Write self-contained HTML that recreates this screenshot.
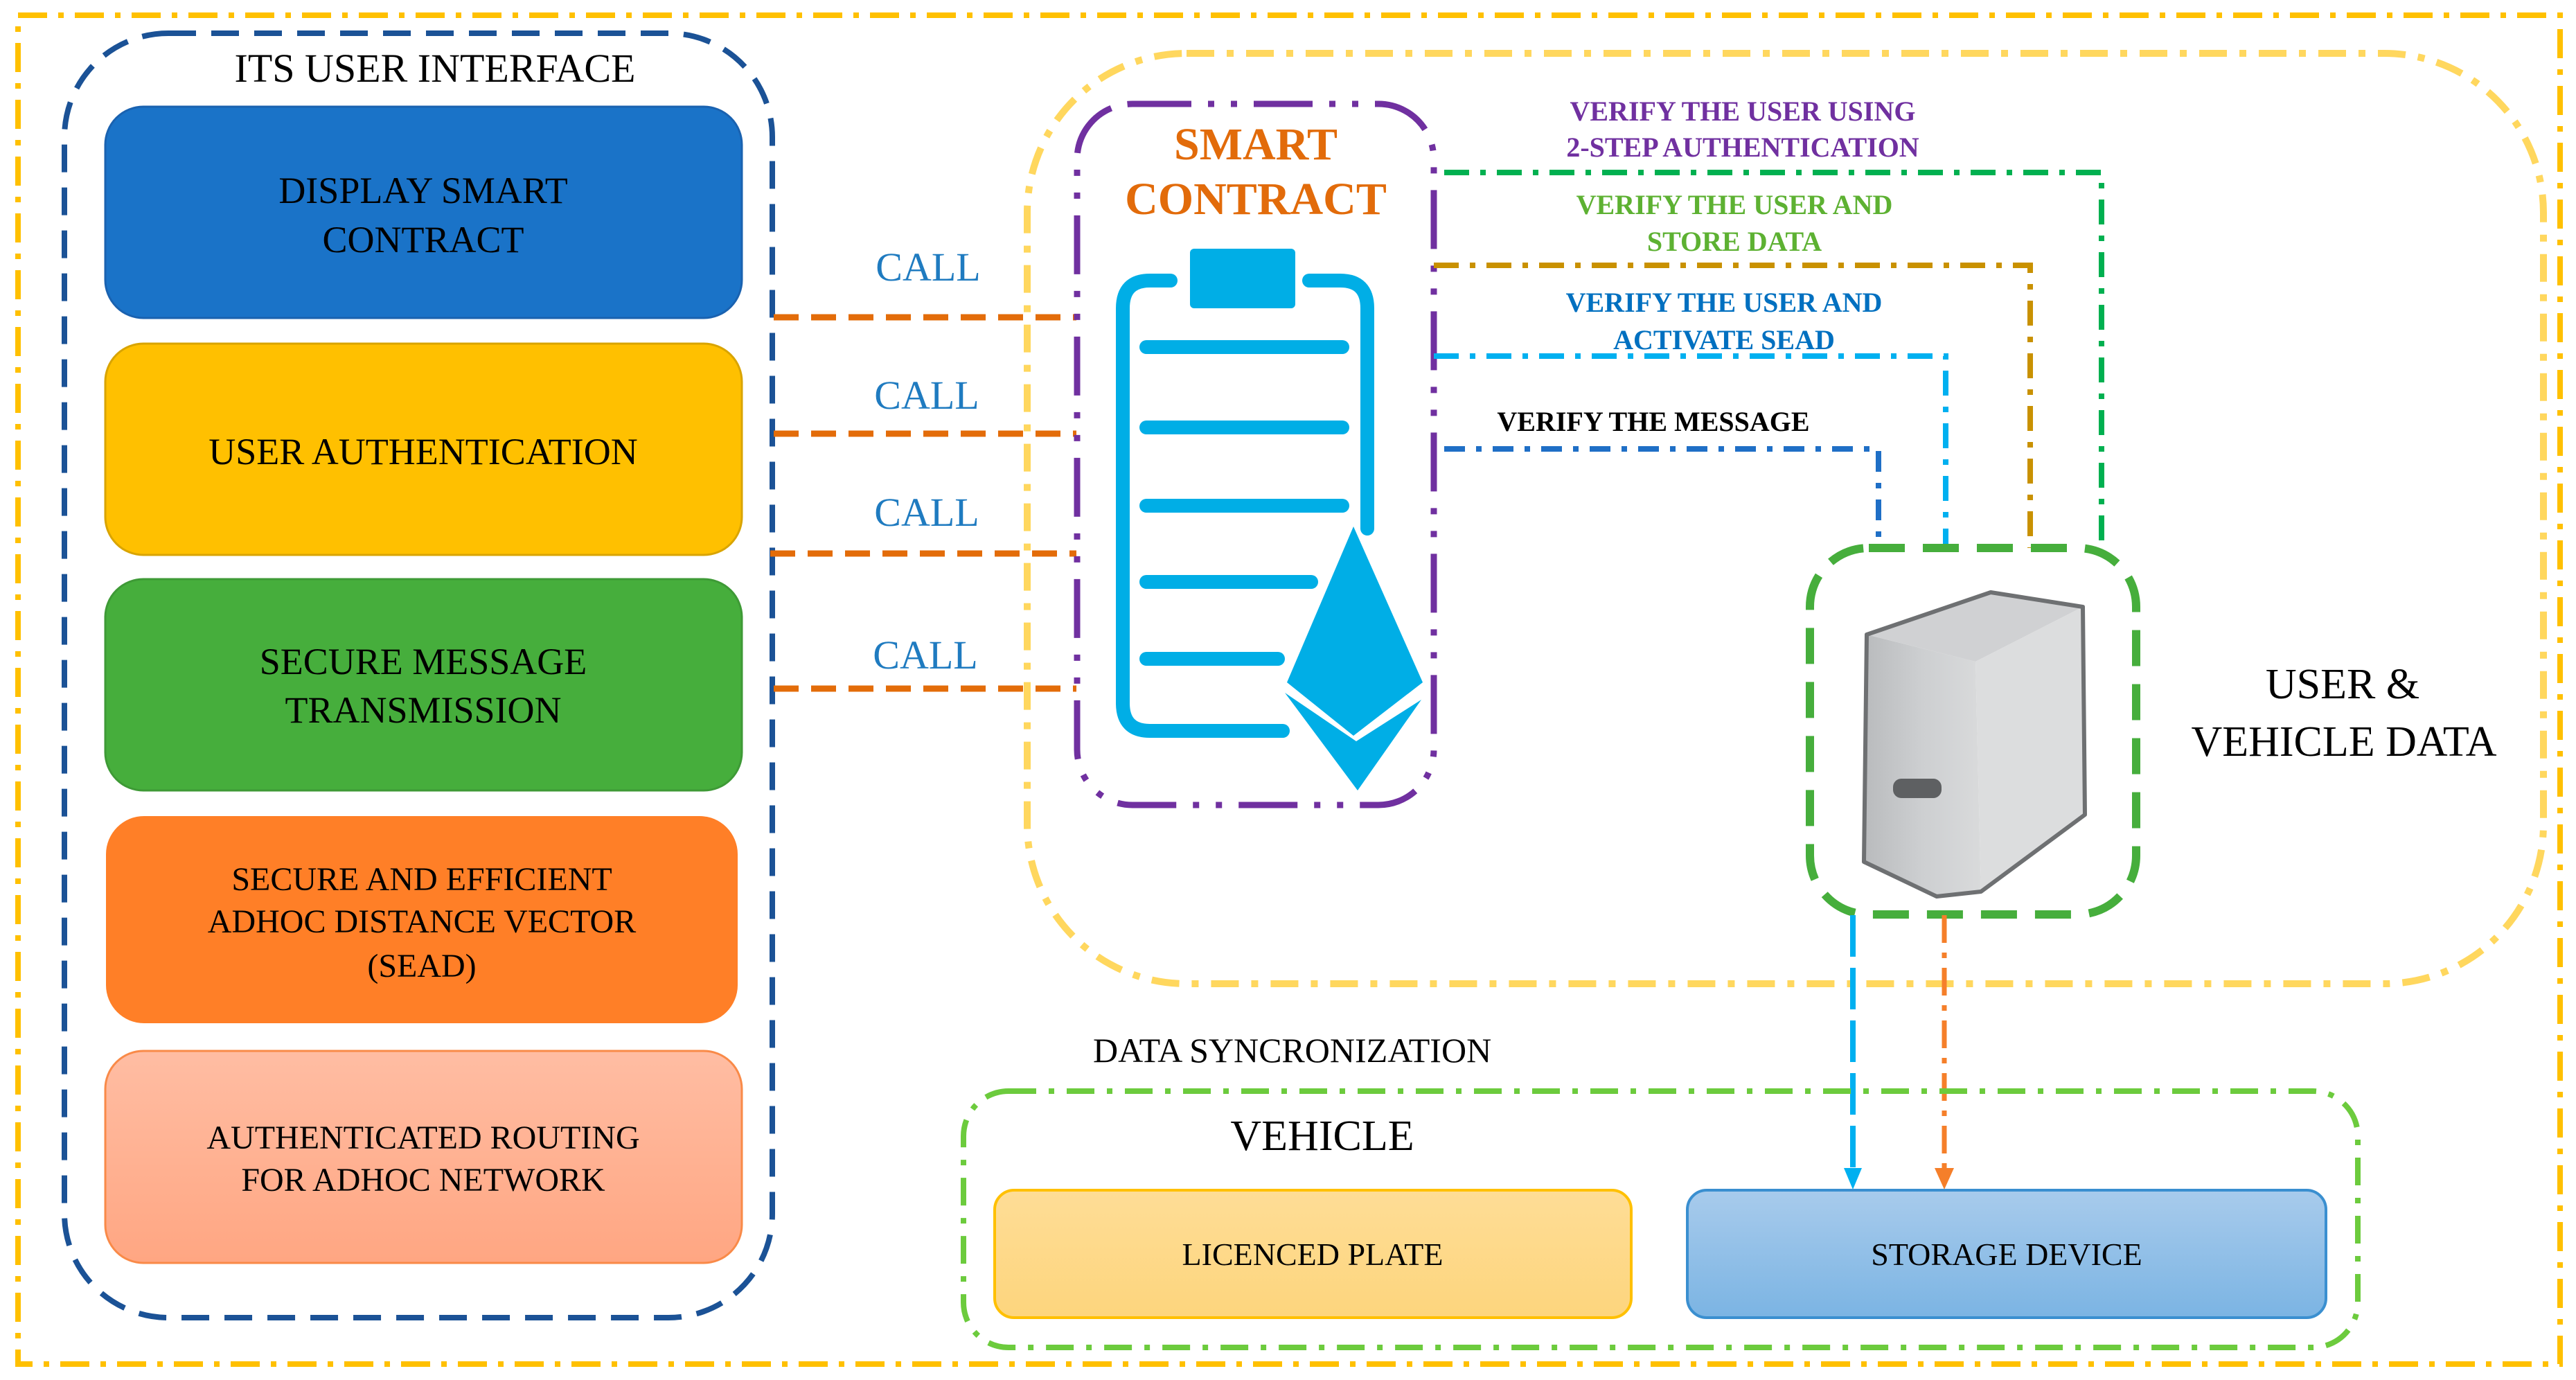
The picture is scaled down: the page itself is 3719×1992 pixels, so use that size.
<!DOCTYPE html>
<html><head><meta charset="utf-8"><style>
html,body{margin:0;padding:0;background:#fff;}
svg{display:block;}
text{font-family:"Liberation Serif",serif;}
</style></head><body>
<svg width="3719" height="1992" viewBox="0 0 3719 1992" xmlns="http://www.w3.org/2000/svg">
<defs>
<linearGradient id="pink" x1="0" y1="0" x2="0" y2="1"><stop offset="0" stop-color="#FFBDA3"/><stop offset="1" stop-color="#FFA682"/></linearGradient>
<linearGradient id="plate" x1="0" y1="0" x2="0" y2="1"><stop offset="0" stop-color="#FEDD96"/><stop offset="1" stop-color="#FDD57D"/></linearGradient>
<linearGradient id="stor" x1="0" y1="0" x2="0" y2="1"><stop offset="0" stop-color="#A8CBEC"/><stop offset="1" stop-color="#7BB4E3"/></linearGradient>
<linearGradient id="front" x1="0" y1="0" x2="1" y2="0"><stop offset="0" stop-color="#B9BBBD"/><stop offset="0.5" stop-color="#CDCFD1"/><stop offset="1" stop-color="#D9DADB"/></linearGradient>
</defs>

<rect x="26" y="22" width="3670" height="1947" fill="none" stroke="#FFC000" stroke-width="8" stroke-dasharray="42 16 8 16"/>

<rect x="93" y="48" width="1022" height="1854" rx="150" fill="none" stroke="#1B5296" stroke-width="8" stroke-dasharray="40 22"/>
<text x="628" y="118" font-size="58" text-anchor="middle">ITS USER INTERFACE</text>

<rect x="152" y="154" width="919" height="305" rx="55" fill="#1A73C8" stroke="#1A62B0" stroke-width="3"/>
<text x="611" y="293" font-size="54" text-anchor="middle">DISPLAY SMART</text>
<text x="611" y="364" font-size="54" text-anchor="middle">CONTRACT</text>

<rect x="152" y="496" width="919" height="305" rx="55" fill="#FFC000" stroke="#D9A400" stroke-width="3"/>
<text x="611" y="670" font-size="54" text-anchor="middle">USER AUTHENTICATION</text>

<rect x="152" y="836" width="919" height="305" rx="55" fill="#46AE3C" stroke="#3E9A36" stroke-width="3"/>
<text x="611" y="973" font-size="54" text-anchor="middle">SECURE MESSAGE</text>
<text x="611" y="1043" font-size="54" text-anchor="middle">TRANSMISSION</text>

<rect x="153" y="1178" width="912" height="299" rx="55" fill="#FF7F27"/>
<text x="609" y="1285" font-size="48" text-anchor="middle">SECURE AND EFFICIENT</text>
<text x="609" y="1346" font-size="48" text-anchor="middle">ADHOC DISTANCE VECTOR</text>
<text x="609" y="1410" font-size="48" text-anchor="middle">(SEAD)</text>

<rect x="152" y="1517" width="919" height="306" rx="55" fill="url(#pink)" stroke="#F98A48" stroke-width="3"/>
<text x="611" y="1658" font-size="48" text-anchor="middle">AUTHENTICATED ROUTING</text>
<text x="611" y="1719" font-size="48" text-anchor="middle">FOR ADHOC NETWORK</text>

<rect x="1483" y="77" width="2189" height="1343" rx="230" fill="none" stroke="#FFD75E" stroke-width="10" stroke-dasharray="40 18 10 18"/>

<g stroke="#E36C09" stroke-width="9" stroke-dasharray="36 18" fill="none">
<line x1="1117" y1="458" x2="1554" y2="458"/>
<line x1="1117" y1="626" x2="1554" y2="626"/>
<line x1="1112" y1="799" x2="1554" y2="799"/>
<line x1="1117" y1="994" x2="1554" y2="994"/>
</g>
<g fill="#1F7BC0" font-size="58" text-anchor="middle">
<text x="1340" y="405">CALL</text>
<text x="1338" y="590">CALL</text>
<text x="1338" y="759">CALL</text>
<text x="1336" y="965">CALL</text>
</g>

<rect x="1555" y="150" width="515" height="1012" rx="80" fill="none" stroke="#7030A0" stroke-width="9" stroke-dasharray="85 24 9 24 9 24"/>
<text x="1813" y="230" font-size="66" font-weight="bold" fill="#E26B0A" text-anchor="middle">SMART</text>
<text x="1813" y="309" font-size="66" font-weight="bold" fill="#E26B0A" text-anchor="middle">CONTRACT</text>

<g stroke="#00AEE6" stroke-linecap="round" fill="none">
<path d="M1690 405 L1660 405 Q1621 405 1621 445 L1621 1015 Q1621 1055 1660 1055 L1852 1055" stroke-width="20"/>
<path d="M1890 405 L1935 405 Q1974 405 1974 445 L1974 763" stroke-width="20"/>
<g stroke-width="20">
<line x1="1655" y1="501" x2="1938" y2="501"/>
<line x1="1655" y1="617" x2="1938" y2="617"/>
<line x1="1655" y1="730" x2="1938" y2="730"/>
<line x1="1655" y1="840" x2="1893" y2="840"/>
<line x1="1655" y1="951" x2="1845" y2="951"/>
</g>
</g>
<rect x="1718" y="359" width="152" height="86" rx="6" fill="#00AEE6"/>
<polygon points="1954,760 1858,985 1954,1062 2054,985" fill="#00AEE6"/>
<polygon points="1855,1000 1958,1070 2052,1010 1960,1141" fill="#00AEE6"/>

<g fill="none" stroke-width="8">
<polyline points="2085,249 3034,249 3034,791" stroke="#00B050" stroke-dasharray="36 16 8 16"/>
<polyline points="2070,383 2931,383 2931,791" stroke="#C99100" stroke-dasharray="36 16 8 16"/>
<polyline points="2070,514 2809,514 2809,791" stroke="#00B0F0" stroke-dasharray="36 16 8 16"/>
<polyline points="2085,648 2712,648 2712,791" stroke="#1F6FC6" stroke-dasharray="30 16 8 16"/>
</g>
<g font-size="40" font-weight="bold" text-anchor="middle">
<text x="2516" y="174" fill="#7030A0">VERIFY THE USER USING</text>
<text x="2516" y="226" fill="#7030A0">2-STEP AUTHENTICATION</text>
<text x="2504" y="309" fill="#5DB132">VERIFY THE USER AND</text>
<text x="2504" y="362" fill="#5DB132">STORE DATA</text>
<text x="2489" y="450" fill="#0070C0">VERIFY THE USER AND</text>
<text x="2489" y="504" fill="#0070C0">ACTIVATE SEAD</text>
<text x="2387" y="622" fill="#000">VERIFY THE MESSAGE</text>
</g>

<rect x="2613" y="791" width="471" height="529" rx="85" fill="none" stroke="#46AE3C" stroke-width="12" stroke-dasharray="52 26"/>
<!-- server -->
<polygon points="2695,916 2852,955 2860,1287 2796,1294 2691,1244" fill="url(#front)"/>
<polygon points="2695,916 2874,855 3007,876 2852,955" fill="#D0D1D3"/>
<polygon points="2852,955 3007,876 3010,1176 2860,1287" fill="#DCDDDE"/>
<polygon points="2695,916 2874,855 3007,876 3010,1176 2860,1287 2796,1294 2691,1244" fill="none" stroke="#6E7072" stroke-width="6" stroke-linejoin="round"/>
<rect x="2733" y="1124" width="70" height="28" rx="12" fill="#5E6062"/>
<text x="3382" y="1008" font-size="62" text-anchor="middle">USER &amp;</text>
<text x="3384" y="1091" font-size="62" text-anchor="middle">VEHICLE DATA</text>

<line x1="2675" y1="1321" x2="2675" y2="1690" stroke="#00B0F0" stroke-width="8" stroke-dasharray="60 16"/>
<polygon points="2662,1686 2688,1686 2675,1717" fill="#00B0F0"/>
<line x1="2807" y1="1321" x2="2807" y2="1690" stroke="#F57F2A" stroke-width="7" stroke-dasharray="40 14 8 14"/>
<polygon points="2793,1686 2821,1686 2807,1717" fill="#F57F2A"/>

<text x="1578" y="1533" font-size="50">DATA SYNCRONIZATION</text>

<rect x="1391" y="1575" width="2013" height="370" rx="65" fill="none" stroke="#6CCB3D" stroke-width="8" stroke-dasharray="40 18 8 18"/>
<text x="1909" y="1660" font-size="62" text-anchor="middle">VEHICLE</text>
<rect x="1436" y="1718" width="919" height="184" rx="28" fill="url(#plate)" stroke="#FFC000" stroke-width="4"/>
<text x="1895" y="1826" font-size="46" text-anchor="middle">LICENCED PLATE</text>
<rect x="2436" y="1718" width="922" height="184" rx="28" fill="url(#stor)" stroke="#3A8FD0" stroke-width="4"/>
<text x="2897" y="1826" font-size="46" text-anchor="middle">STORAGE DEVICE</text>
</svg>
</body></html>
